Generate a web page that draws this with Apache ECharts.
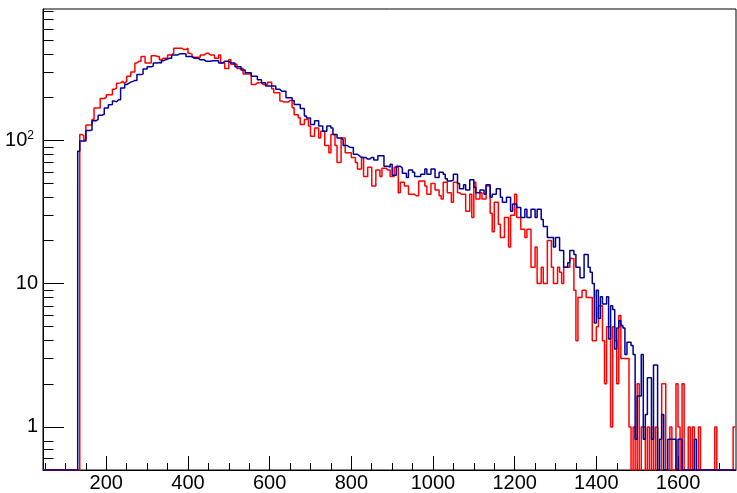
<!DOCTYPE html>
<html><head><meta charset="utf-8">
<script src="https://cdn.jsdelivr.net/npm/echarts@6/dist/echarts.min.js"></script>
<style>html,body{margin:0;padding:0;background:#fff}#c{width:737px;height:493px}</style>
</head><body><div id="c"></div>
<script>
// Histogram binning: bins of width 5 starting at 45
const binLow = 45;
const binWidth = 5;

// Red histogram counts (bins 45..1735)
const redCounts = [
  0,0,0,0,0,0,0,0,0,0,0,0,0,0,0,0,0,
  0,110,108,100,128,128,128,140,168,168,
  168,196,196,200,208,208,208,227,232,250,
  252,258,250,258,280,280,300,300,347,356,
  356,385,385,347,347,347,390,390,385,385,
  365,375,375,375,395,395,405,440,440,440,
  440,430,430,440,405,400,380,380,380,380,
  395,395,405,405,395,395,395,375,375,395,
  347,347,318,318,365,340,340,340,318,318,
  318,290,290,290,290,245,245,252,252,252,
  245,245,245,254,254,229,215,215,215,188,
  185,185,185,190,190,169,151,151,144,129,
  129,140,140,126,107,107,122,122,104,116,
  116,92,92,82,110,110,92,70,70,104,
  104,82,82,82,76,76,70,63,63,76,
  56,56,65,65,48,48,62,62,56,64,
  64,62,62,56,56,65,65,43,51,51,
  48,48,42,42,42,41,41,52,52,52,
  48,42,42,50,50,45,45,41,39,51,
  51,43,43,37,51,51,43,42,42,42,
  32,32,42,29,51,39,39,43,39,39,
  48,48,31,23,37,37,26,21,21,29,
  29,18,30,30,42,29,29,24,24,21,
  24,24,13,13,18,10,10,13,10,10,
  20,20,13,10,10,13,12,10,13,13,
  13,15,15,9,4,8,8,9,9,8,
  8,8,4,4,5,7,7,4,2,5,
  5,1,5,4,2,6,3,3,3,3,
  1,0,1,0,2,0,1,1,0,1,
  0,1,0,1,0,0,2,2,0,0,
  1,0,0,2,1,0,2,0,0,1,
  0,1,0,0,1,0,0,0,0,0,
  0,0,1,0,0,0,0,0,0,0,
  0,1
];

// Blue histogram contents (bins 45..1735)
const blueCounts = [
  0,0,0,0,0,0,0,0,0,0,0,0,0,0,0,0,0,
  84,99,99,99,117,117,118,137,137,140,
  150,150,152,168,168,177,178,188,186,192,
  192,232,232,245,250,255,258,262,262,288,
  288,290,315,315,326,326,330,347,347,350,
  347,360,365,370,375,375,395,395,395,402,
  402,402,402,385,385,385,375,375,375,365,
  365,365,356,356,356,360,360,360,360,347,
  347,356,356,356,347,347,347,326,326,326,
  310,310,297,297,297,280,280,280,265,265,
  252,252,240,240,240,240,240,227,227,220,
  220,220,198,198,198,190,178,178,178,167,
  167,148,143,143,129,129,137,137,126,126,
  116,116,126,126,122,110,110,104,104,101,
  92,92,90,89,89,80,80,78,76,76,
  76,74,74,76,76,73,73,78,78,78,
  66,66,65,68,57,57,66,66,64,59,
  59,55,62,62,60,56,56,56,58,58,
  63,58,58,63,63,55,55,60,60,58,
  54,52,52,53,58,58,50,46,46,49,
  45,45,53,53,47,43,43,45,45,42,
  49,49,40,42,42,46,46,40,37,37,
  40,40,32,36,36,34,34,29,29,33,
  29,29,33,33,29,33,33,28,25,25,
  21,21,21,18,21,21,17,17,13,13,
  14,17,17,16,13,13,11,11,16,16,
  13,12,10,5.3,9,5.7,8.1,7.2,7.2,8.1,
  4.1,7,6.6,3.5,4.9,5.5,5.1,4.9,3.2,3.9,
  3.9,3.7,3.2,0.82,1.64,1.64,3.2,0.82,1.22,2.2,
  2.2,0.82,2.7,2.7,0,0.82,1.22,0,0,0.82,
  0.82,0.82,0.82,0,0.82,0.82,0,0,0,0,
  0,0,0.82,0,0,0,0,0,0,0,
  0,0,0,0,0,0,0,0,0,0,
  0,0
];

// Axis ranges and tick values
const xRange = [45, 1742];
const yRange = [0.5, 826];
const xMajorTicks = [200, 400, 600, 800, 1000, 1200, 1400, 1600];
const xMinorTicks = [50, 100, 150, 250, 300, 350, 450, 500, 550, 650, 700, 750, 850, 900, 950,
  1050, 1100, 1150, 1250, 1300, 1350, 1450, 1500, 1550, 1650, 1700];
const yMajorTicks = [1, 10, 100];
const yMinorTicks = [0.6, 0.7, 0.8, 2, 3, 4, 5, 6, 7, 8, 9, 20, 30, 40, 50, 60, 70, 80, 90,
  200, 300, 400, 500, 600, 700, 800];

function toSteps(counts) {
  const pts = counts.map((c, i) => [binLow + i * binWidth, Math.max(c, yRange[0])]);
  const last = counts.length - 1;
  pts.push([binLow + counts.length * binWidth, Math.max(counts[last], yRange[0])]);
  return pts;
}

const FONT = 'Liberation Sans';
const chart = echarts.init(document.getElementById('c'), null, {renderer: 'canvas'});
chart.setOption({
  animation: false,
  backgroundColor: '#fff',
  grid: {left: 43, right: 1, top: 9, bottom: 20.5, show: true, borderColor: '#000', borderWidth: 1, backgroundColor: 'transparent'},
  xAxis: [
    {type: 'value', min: xRange[0], max: xRange[1], position: 'bottom',
      axisLine: {show: true, onZero: false, lineStyle: {color: '#000', width: 1}},
      axisTick: {show: true, inside: true, length: 14, customValues: xMajorTicks, lineStyle: {color: '#000', width: 1}},
      axisLabel: {show: true, customValues: xMajorTicks, fontSize: 20, fontFamily: FONT, color: '#000', margin: 3,
        formatter: function (v) { return String(Math.round(v)); }},
      splitLine: {show: false}},
    {type: 'value', min: xRange[0], max: xRange[1], position: 'bottom',
      axisLine: {show: false},
      axisTick: {show: true, inside: true, length: 7, customValues: xMinorTicks, lineStyle: {color: '#000', width: 1}},
      axisLabel: {show: false}, splitLine: {show: false}}
  ],
  yAxis: [
    {type: 'log', logBase: 10, min: yRange[0], max: yRange[1], position: 'left',
      axisLine: {show: true, onZero: false, lineStyle: {color: '#000', width: 1}},
      axisTick: {show: true, inside: true, length: 21, customValues: yMajorTicks, lineStyle: {color: '#000', width: 1}},
      axisLabel: {show: true, customValues: yMajorTicks, margin: 5,
        formatter: function (v) {
          const r = Math.round(v);
          return r === 100 ? '{b|10}{s|2}' : '{b|' + r + '}';
        },
        rich: {
          b: {fontSize: 20, fontFamily: FONT, color: '#000', lineHeight: 22},
          s: {fontSize: 12, fontFamily: FONT, color: '#000', verticalAlign: 'top', lineHeight: 12, padding: [0, 4, 0, 0]}
        }},
      splitLine: {show: false}},
    {type: 'log', logBase: 10, min: yRange[0], max: yRange[1], position: 'left',
      axisLine: {show: false},
      axisTick: {show: true, inside: true, length: 10.5, customValues: yMinorTicks, lineStyle: {color: '#000', width: 1}},
      axisLabel: {show: false}, splitLine: {show: false}}
  ],
  series: [
    {type: 'line', name: 'red', xAxisIndex: 0, yAxisIndex: 0, step: 'end', data: toSteps(redCounts),
      showSymbol: false, symbol: 'none', clip: true,
      lineStyle: {color: '#ff0000', width: 1.5}},
    {type: 'line', name: 'blue', xAxisIndex: 0, yAxisIndex: 0, step: 'end', data: toSteps(blueCounts),
      showSymbol: false, symbol: 'none', clip: true,
      lineStyle: {color: '#000099', width: 1.5}}
  ]
});
</script>
</body></html>
